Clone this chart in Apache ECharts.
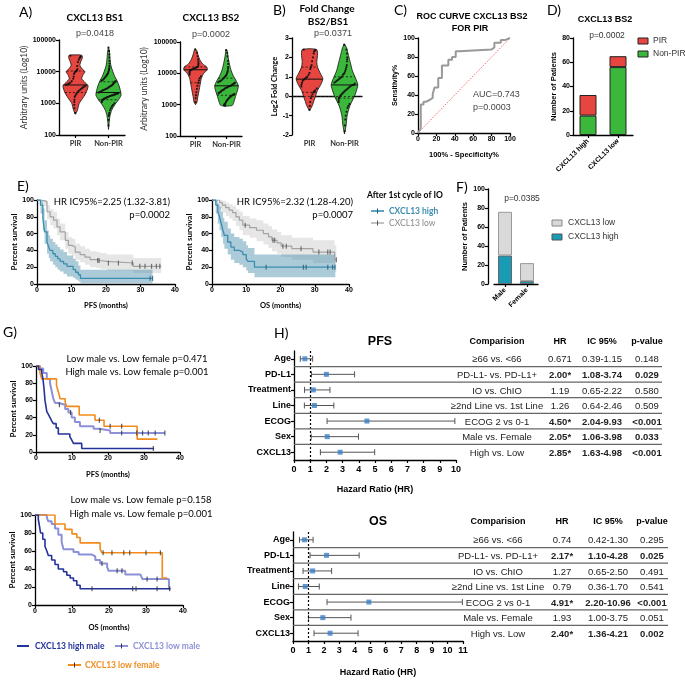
<!DOCTYPE html>
<html><head><meta charset="utf-8">
<script src="https://cdn.jsdelivr.net/npm/echarts@6/dist/echarts.min.js"></script>
<style>html,body{margin:0;padding:0;background:#fff}#c{width:685px;height:680px}</style>
</head><body><div id="c"></div>
<script>
// ---------------- DATA ----------------
// Panel A (violins, log scale)
const violinCats = ['PIR', 'Non-PIR'];
const bs1PirProfile = [[450,0],[600,0.15],[1000,0.3],[1400,0.55],[2000,0.8],[2800,0.95],[3600,1],[4600,0.75],[6000,0.5],[8000,0.6],[10000,0.75],[12000,0.55],[16000,0.35],[22000,0.45],[28000,0.55],[33000,0.5],[34000,0]];
const bs1NonPirProfile = [[150,0],[250,0.05],[400,0.12],[600,0.25],[900,0.5],[1300,0.8],[1800,1],[2500,0.95],[3500,0.85],[5000,0.7],[7000,0.5],[10000,0.35],[15000,0.2],[25000,0.12],[40000,0.08],[60000,0]];
const bs2PirProfile = [[1000,0],[1200,0.12],[1800,0.2],[2800,0.3],[4500,0.4],[7000,0.5],[10000,0.7],[13000,1],[16000,0.95],[20000,0.6],[28000,0.35],[40000,0.2],[55000,0.1],[60000,0]];
const bs2NonPirProfile = [[900,0],[950,0.5],[1300,0.65],[2000,0.8],[3000,0.95],[4000,1],[5500,0.85],[8000,0.6],[12000,0.4],[20000,0.25],[35000,0.12],[55000,0.05],[58000,0]];
const bs1PirStats = [2200, 3800, 10500];
const bs1NonPirStats = [1300, 2200, 4800];
const bs2PirStats = [5000, 13000, 16000];
const bs2NonPirStats = [2000, 4000, 7000];
const bs1PirDots = [32000,30500,29000,27000,24000,20000,15000,12000,11000,10500,10000,9500,8500,7000,6000,5000,4500,4200,4000,3800,3600,3400,3200,3000,2800,2600,2400,2200,2000,1800,1600,1300,1100,900,700,500];
const bs1NonPirDots = [58000,45000,35000,28000,22000,18000,15000,13000,12000,11000,10000,9000,8500,8000,7500,7000,6500,6000,5500,5200,5000,4800,4500,4300,4000,3800,3600,3500,3300,3200,3000,2900,2800,2700,2600,2500,2400,2300,2200,2100,2000,2000,1900,1900,1800,1800,1700,1700,1600,1600,1500,1500,1400,1400,1300,1300,1200,1100,1000,900,800,700,600,500,450,400,300,200];
const bs2PirDots = [58000,45000,35000,28000,24000,21000,19000,17000,16000,15500,15000,14500,14000,13500,13000,12500,12000,11000,10000,9000,8000,7000,6000,5000,4000,3200,2500,2000,1600,1200];
const bs2NonPirDots = [55000,45000,35000,25000,20000,16000,14000,12000,11000,10000,9000,8500,8000,7500,7000,6500,6000,5700,5500,5200,5000,4800,4600,4400,4200,4000,3900,3800,3600,3500,3400,3200,3000,2900,2800,2600,2500,2400,2300,2200,2100,2000,1900,1800,1700,1600,1500,1400,1300,1200,1100,1050,1000,950,920];
// Panel B (fold change)
const bPirProfile = [[-0.75,0],[-0.5,0.2],[-0.2,0.35],[0,0.45],[0.3,0.6],[0.6,0.85],[0.9,1],[1.2,0.8],[1.5,0.6],[1.8,0.55],[2.1,0.6],[2.4,0.55],[2.45,0]];
const bNonPirProfile = [[-1.95,0],[-1.5,0.12],[-1,0.2],[-0.5,0.4],[0,0.75],[0.4,0.95],[0.6,1],[0.9,0.85],[1.3,0.6],[1.7,0.45],[2.1,0.3],[2.5,0.15],[2.7,0]];
const bPirStats = [0.2, 0.88, 1.5];
const bNonPirStats = [-0.1, 0.58, 1.0];
const bPirDots = [2.4,2.38,2.35,2.3,2.2,2.0,1.8,1.6,1.5,1.4,1.2,1.1,1.0,0.95,0.9,0.85,0.8,0.7,0.6,0.5,0.4,0.3,0.25,0.2,0.1,0.0,-0.1,-0.3,-0.5,-0.7];
const bNonPirDots = [2.65,2.4,2.2,2.0,1.9,1.8,1.6,1.5,1.4,1.3,1.2,1.15,1.1,1.0,0.95,0.9,0.85,0.8,0.75,0.7,0.65,0.6,0.58,0.55,0.5,0.45,0.4,0.35,0.3,0.25,0.2,0.15,0.1,0.05,0.0,-0.05,-0.1,-0.2,-0.3,-0.4,-0.5,-0.6,-0.8,-1.0,-1.2,-1.5,-1.8];
// Panel C (ROC)
const rocFpr = [0,3,3,6,6,9,9,13,13,16,16,18,18,22,22,26,26,33,33,37,37,41,41,45,45,80,80,83,83,90,90,95,95,100];
const rocTpr = [0,5,30,30,33,33,35,35,37,37,41,41,48,48,58,58,71,71,77,77,80,80,86,86,88,88,90,90,95,95,98,98,100,100];
// Panel D
const dCats = ['CXCL13 high', 'CXCL13 low'];
const dNonPir = [16, 56];
const dPir = [17, 9];
// Panel E (KM with 95% bands)
const ePfsHighT = [0,1.0,1.7,2.2,2.9,3.4,3.8,4.6,5.3,6.0,6.7,7.7,8.7,10.5,11.2,12.0,12.6,33.5];
const ePfsHighS = [100,94,78,62,50,44,40,36,33,30,27,24,21,17,14,11,6.7,6.7];
const ePfsHighU = [100,100,90,76,64,58,54,50,47,44,41,38,34,30,27,22,17,17];
const ePfsHighL = [100,84,64,48,36,31,27,23,20,17,15,12,9,7,5,3,1,1];
const ePfsHighC = [32.8, 33.5];
const ePfsLowT = [0,1.4,2.9,3.8,4.8,5.8,6.7,8.2,9.1,10.1,11.1,12.5,13.9,15.4,17.3,18.3,20.2,27.9,36];
const ePfsLowS = [100,98,86,80,76,68,62,52,46,44,38,35,32,29,28,27,25,21,21];
const ePfsLowU = [100,100,94,89,86,78,72,62,56,54,48,45,42,39,38,37,35,31,31];
const ePfsLowL = [100,93,77,70,66,58,52,42,36,34,29,26,23,20,19,18,16,13,13];
const ePfsLowC = [17.6,18.0,20.7,23.6,27.6,29.8,31.3,33.2,34.6,35.6];
const eOsHighT = [0,1.1,1.7,2.2,2.7,3.2,3.6,4.6,5.5,6.5,8.0,9.0,10.0,10.5,12.4,36];
const eOsHighS = [100,94,86,80,72,64,58,50,44,40,38,35,30,27,20,20];
const eOsHighU = [100,100,96,92,86,79,74,66,60,56,54,51,46,43,35,35];
const eOsHighL = [100,84,72,64,56,48,42,35,29,25,23,20,16,13,8,8];
const eOsHighC = [15.8,26.7,27.5,33.8,35.2,35.9];
const eOsLowT = [0,2.2,3.0,4.0,5.0,6.0,7.0,8.0,9.0,11.0,13.0,15.0,16.5,17.5,19.0,20.2,23.3,29.5,35.8,36.3];
const eOsLowS = [100,97,94,91,88,85,80,76,70,67,64,60,56,52,49,45,42,38,29,29];
const eOsLowU = [100,100,99,97,95,93,89,86,81,78,76,72,69,65,62,58,55,52,46,46];
const eOsLowL = [100,90,85,81,78,75,69,64,58,55,51,47,43,39,36,32,29,25,14,14];
const eOsLowC = [9.7,17.8,18.3,20.7,21.7,26.0,31.2,33.8,34.5,36.3];
// Panel F
const fCats = ['Male', 'Female'];
const fHigh = [30, 3];
const fLow = [46, 19];
// Panel G (KM by sex)
const gPfsHighT = [0,0.7,1.6,1.9,2.2,2.5,3.0,3.4,3.9,4.4,4.8,5.6,6.2,9.4,9.9,10.4,12.7,32.8];
const gPfsHighS = [100,96,92,86,75,60,47,44,40,36,33,28,21,18,14,10,4,4];
const gPfsHighC = [32.6];
const gPfsLowMT = [0,1.1,2.0,3.0,3.9,4.4,4.8,5.3,6.2,8.1,9.0,9.9,10.8,12.2,16.0,17.5,20.6,35.8];
const gPfsLowMS = [100,97,92,85,80,70,62,57,55,50,46,40,35,30,27,25,22,22];
const gPfsLowMC = [6.5,9.6,17.8,23.8,28.0,29.6,31.2,33.1,35.8];
const gPfsLowFT = [0,1.1,1.6,5.7,6.2,6.7,8.1,8.5,12.0,16.4,18.9,28.1,33.7];
const gPfsLowFS = [100,92,85,77,70,62,58,53,43,37,30,15,15];
const gPfsLowFC = [17.6,20.6,23.8];
const gOsHighT = [0,0.9,1.2,1.5,2.1,2.7,3.2,3.6,4.5,5.4,6.3,7.7,8.6,9.5,10.4,11.3,12.2,36.6];
const gOsHighS = [100,95,88,80,73,65,60,55,50,45,40,37,33,30,27,22,18,18];
const gOsHighC = [15.4,26.4,27.3,33.0,36.4];
const gOsLowMT = [0,3.2,3.6,4.5,5.4,6.3,7.2,7.7,10.4,11.8,15.4,16.3,17.6,19.5,19.9,24.4,28.5,29.0,36.2,36.6];
const gOsLowMS = [100,97,93,90,85,78,70,62,59,56,54,50,46,42,38,34,32,29,18,18];
const gOsLowMC = [18.1,22.2,23.5,30.3,33.0];
const gOsLowFT = [0,5.4,8.1,10.0,11.3,12.2,17.6,18.1,34.4,35.7];
const gOsLowFS = [100,90,84,79,75,69,62,58,30,30];
const gOsLowFC = [18.4,20.8,24.0,25.6,30.0,33.9];
// Panel H (forest plots)
const hRows = ['Age','PD-L1','Treatment','Line','ECOG','Sex','CXCL13'];
const hComparisons = ['≥66 vs. <66','PD-L1- vs. PD-L1+','IO vs. ChIO','≥2nd Line vs. 1st Line','ECOG 2 vs 0-1','Male vs. Female','High vs. Low'];
const pfsHR = [0.671,2.00,1.19,1.26,4.50,2.05,2.85];
const pfsLo = [0.39,1.08,0.65,0.64,2.04,1.06,1.63];
const pfsHi = [1.15,3.74,2.22,2.46,9.93,3.98,4.98];
const pfsHRLabel = ['0.671','2.00*','1.19','1.26','4.50*','2.05*','2.85*'];
const pfsP = ['0.148','0.029','0.580','0.509','<0.001','0.033','<0.001'];
const pfsBold = [0,1,0,0,1,1,1];
const osHR = [0.74,2.17,1.27,0.79,4.91,1.93,2.40];
const osLo = [0.42,1.10,0.65,0.36,2.20,1.00,1.36];
const osHi = [1.30,4.28,2.50,1.70,10.96,3.75,4.21];
const osHRLabel = ['0.74','2.17*','1.27','0.79','4.91*','1.93','2.40*'];
const osP = ['0.295','0.025','0.491','0.541','<0.001','0.051','0.002'];
const osBold = [0,1,0,0,1,0,1];

// ---------------- STYLE / HELPERS ----------------
const FA = '"Liberation Sans", Arial, sans-serif';
const FL = 'Lato, "Open Sans", sans-serif';
const RED = '#e6463f', GREEN = '#3bb83b', TEAL = '#3b8db0', GRAYL = '#a3a3a3';
const BLUE_D = '#23339a', LAV = '#8c90d8', ORANGE = '#f28a1c', FTEAL = '#1a9bb5';
const AL = {show:true, lineStyle:{color:'#000', width:1.3}};
const AT = {show:true, length:3, lineStyle:{color:'#000', width:1.2}};

const grids = [
  {left:59, top:40, width:66, height:95},
  {left:180, top:42, width:62, height:94},
  {left:292, top:38, width:70, height:97},
  {left:418, top:38, width:92, height:95},
  {left:573, top:38, width:60, height:97},
  {left:37, top:200, width:138, height:84},
  {left:212, top:200, width:137, height:84},
  {left:494, top:189, width:44, height:95},
  {left:36, top:366, width:144, height:86},
  {left:35, top:515, width:148, height:90},
  {left:294, top:351, width:162, height:109},
  {left:293, top:532, width:170, height:109}
].map(g => Object.assign({outerBoundsMode:'none', containLabel:false}, g));

function lbl(size, o) { return Object.assign({fontFamily:FA, fontWeight:'bold', fontSize:size, color:'#000', margin:3, formatter: v => String(Math.round(v*1000)/1000)}, o||{}); }
function vAxis(gi, min, max, interval, name, gap, o) {
  return Object.assign({gridIndex:gi, type:'value', min, max, interval, name, nameLocation:'middle', nameGap:gap, nameRotate:90,
    nameTextStyle:{fontFamily:FL, fontWeight:'bold', fontSize:8, color:'#000'},
    axisLine:AL, axisTick:AT, axisLabel:lbl(7), splitLine:{show:false}}, o||{});
}
function xVal(gi, min, max, interval, name, gap, o) {
  return Object.assign({gridIndex:gi, type:'value', min, max, interval, name, nameLocation:'middle', nameGap:gap,
    nameTextStyle:{fontFamily:FL, fontWeight:'bold', fontSize:7.5, color:'#000'},
    axisLine:AL, axisTick:AT, axisLabel:lbl(7), splitLine:{show:false}}, o||{});
}
function xCat(gi, data, o) {
  return Object.assign({gridIndex:gi, type:'category', data, axisLine:AL,
    axisTick:{show:true, alignWithLabel:true, length:3, lineStyle:{color:'#000', width:1.2}},
    axisLabel:{fontFamily:FL, fontWeight:'bold', fontSize:7.5, color:'#333', margin:5, interval:0}, splitLine:{show:false}}, o||{});
}

function densAt(prof, v, lg) {
  const f = lg ? Math.log10 : (x => x);
  const x = f(v);
  for (let k = 0; k < prof.length - 1; k++) {
    const a = f(prof[k][0]), b = f(prof[k+1][0]);
    if (x >= a && x <= b) { const t = (x - a) / ((b - a) || 1); return prof[k][1] + (prof[k+1][1] - prof[k][1]) * t; }
  }
  return 0;
}
function violinSeries(gi, profs, fills, stats, lg) {
  return {type:'custom', xAxisIndex:gi, yAxisIndex:gi, z:2, silent:true,
    data: profs.map((p, i) => [i, p[0][0]]),
    renderItem: (params, api) => {
      const i = params.dataIndex, prof = profs[i];
      const band = api.size([1, 0])[0], mh = band * 0.38;
      const cx = api.coord([i, prof[0][0]])[0];
      const right = [], left = [];
      prof.forEach(([v, d]) => { const y = api.coord([i, v])[1]; right.push([cx + d*mh, y]); left.unshift([cx - d*mh, y]); });
      const ch = [{type:'polygon', shape:{points:right.concat(left), smooth:0.25}, style:{fill:fills[i], stroke:'#111', lineWidth:0.8}}];
      stats[i].forEach((v, k) => {
        const y = api.coord([i, v])[1], h = densAt(prof, v, lg) * mh;
        ch.push({type:'line', shape:{x1:cx-h, y1:y, x2:cx+h, y2:y}, style:{stroke:'#111', lineWidth:k===1?1:0.8, lineDash:k===1?null:[2,2]}});
      });
      return {type:'group', children:ch};
    }};
}
function dotSeries(gi, ci, vals, prof, lg) {
  return {type:'custom', xAxisIndex:gi, yAxisIndex:gi, z:3, silent:true,
    data: vals.map(v => [ci, v]),
    renderItem: (params, api) => {
      const idx = params.dataIndex, v = api.value(1);
      const band = api.size([1, 0])[0];
      const h = densAt(prof, v, lg) * band * 0.38 * 0.8;
      const j = ((idx * 37) % 19) / 9 - 1;
      const p = api.coord([ci, v]);
      return {type:'rect', shape:{x:p[0] + j*h - 0.9, y:p[1] - 0.9, width:1.8, height:1.8}, style:{fill:'#111'}};
    }};
}
function survAt(T, S, t) { let s = S[0]; for (let i = 0; i < T.length; i++) if (T[i] <= t) s = S[i]; return s; }
function kmLine(gi, T, S, color, w, z) {
  return {type:'line', xAxisIndex:gi, yAxisIndex:gi, data:T.map((t, i) => [t, S[i]]), step:'end', showSymbol:false, symbol:'none',
    lineStyle:{color, width:w}, z:z||3, silent:true, animation:false};
}
function censor(gi, T, S, C, color) {
  return {type:'scatter', xAxisIndex:gi, yAxisIndex:gi, data:C.map(t => [t, survAt(T, S, t)]), symbol:'rect', symbolSize:[1.2, 5],
    itemStyle:{color}, z:5, silent:true};
}
function bandSeries(gi, T, U, L, color) {
  return {type:'custom', xAxisIndex:gi, yAxisIndex:gi, z:1, silent:true, data:[[0, 0]],
    renderItem: (params, api) => {
      const pts = [];
      for (let i = 0; i < T.length; i++) { const tn = i < T.length-1 ? T[i+1] : T[i]; pts.push(api.coord([T[i], U[i]])); pts.push(api.coord([tn, U[i]])); }
      for (let i = T.length-1; i >= 0; i--) { const tn = i < T.length-1 ? T[i+1] : T[i]; pts.push(api.coord([tn, L[i]])); pts.push(api.coord([T[i], L[i]])); }
      return {type:'polygon', shape:{points:pts}, style:{fill:color}};
    }};
}
function forest(gi, hr, lo, hi) {
  return [
    {type:'custom', xAxisIndex:gi, yAxisIndex:gi, z:3, silent:true, data:hr.map((h, i) => [lo[i], hi[i], i]),
      renderItem: (params, api) => {
        const i = api.value(2), a = api.coord([api.value(0), i]), b = api.coord([api.value(1), i]);
        const st = {stroke:'#555', lineWidth:1};
        return {type:'group', children:[
          {type:'line', shape:{x1:a[0], y1:a[1], x2:b[0], y2:b[1]}, style:st},
          {type:'line', shape:{x1:a[0], y1:a[1]-3, x2:a[0], y2:a[1]+3}, style:st},
          {type:'line', shape:{x1:b[0], y1:b[1]-3, x2:b[0], y2:b[1]+3}, style:st}]};
      }},
    {type:'scatter', xAxisIndex:gi, yAxisIndex:gi, z:4, silent:true, data:hr.map((h, i) => [h, i]), symbol:'rect', symbolSize:[5, 5],
      itemStyle:{color:'#3a7fc8'},
      markLine:{silent:true, symbol:'none', label:{show:false}, data:[{xAxis:1}], lineStyle:{type:[2, 2], color:'#000', width:1.2}}}
  ];
}
function T(x, y, text, o) {
  o = o || {};
  return {type:'text', x, y, silent:true, z:100,
    style:{text, fill:o.c || '#000', font:o.f || ('9px ' + FA), textAlign:o.a || 'left', align:o.a || 'left',
      textVerticalAlign:'middle', verticalAlign:'middle'}};
}
function L(x1, y1, x2, y2, color, w) { return {type:'line', silent:true, z:100, shape:{x1, y1, x2, y2}, style:{stroke:color, lineWidth:w || 1}}; }
function R(x, y, w, h, fill, stroke) { return {type:'rect', silent:true, z:100, shape:{x, y, width:w, height:h}, style:{fill, stroke, lineWidth:1}}; }

// ---------------- AXES ----------------
const logAxis = (gi, gap) => ({gridIndex:gi, type:'log', logBase:10, min:100, max:100000, name:'Arbitrary units (Log10)', nameLocation:'middle', nameGap:gap, nameRotate:90,
  nameTextStyle:{fontFamily:FL, fontSize:8.5, color:'#333'}, axisLine:AL, axisTick:AT, axisLabel:lbl(7), splitLine:{show:false}});
const xAxes = [
  xCat(0, violinCats), xCat(1, violinCats), xCat(2, violinCats),
  xVal(3, 0, 100, 20, '100% - Specificity%', 18, {nameTextStyle:{fontFamily:FA, fontWeight:'bold', fontSize:7.5, color:'#000'}}),
  xCat(4, dCats, {axisLabel:{fontFamily:FA, fontWeight:'bold', fontSize:7, color:'#000', rotate:45, margin:5, interval:0}}),
  xVal(5, 0, 40, 10, 'PFS (months)', 18), xVal(6, 0, 40, 10, 'OS (months)', 18),
  xCat(7, fCats, {axisLabel:{fontFamily:FA, fontWeight:'bold', fontSize:7, color:'#000', rotate:45, margin:5, interval:0}}),
  xVal(8, 0, 40, 10, 'PFS (months)', 19), xVal(9, 0, 40, 10, 'OS (months)', 19),
  xVal(10, 0, 10, 1, 'Hazard Ratio (HR)', 25, {axisLabel:lbl(9, {margin:5}), nameTextStyle:{fontFamily:FA, fontWeight:'bold', fontSize:9, color:'#000'}}),
  xVal(11, 0, 11, 1, 'Hazard Ratio (HR)', 27, {axisLabel:lbl(9, {margin:5}), nameTextStyle:{fontFamily:FA, fontWeight:'bold', fontSize:9, color:'#000'}})
];
const hy = (gi) => ({gridIndex:gi, type:'category', data:hRows, inverse:true, axisLine:AL,
  axisTick:{show:true, alignWithLabel:true, length:3, lineStyle:{color:'#000', width:1.2}},
  axisLabel:{fontFamily:FA, fontWeight:'bold', fontSize:9, color:'#000', margin:3, interval:0}});
const yAxes = [
  logAxis(0, 30), logAxis(1, 31),
  vAxis(2, -2, 3, 1, 'Log2 Fold Change', 12, {nameTextStyle:{fontFamily:FL, fontWeight:'bold', fontSize:7.5, color:'#000'}}),
  vAxis(3, 0, 100, 20, 'Sensitivity%', 19, {nameTextStyle:{fontFamily:FA, fontWeight:'bold', fontSize:7, color:'#000'}}),
  vAxis(4, 0, 80, 20, 'Number of Patients', 13, {nameTextStyle:{fontFamily:FA, fontWeight:'bold', fontSize:7.5, color:'#000'}}),
  vAxis(5, 0, 100, 20, 'Percent survival', 18), vAxis(6, 0, 100, 20, 'Percent survival', 18),
  vAxis(7, 0, 100, 20, 'Number of Patients', 15, {offset:6, nameTextStyle:{fontFamily:FA, fontWeight:'bold', fontSize:7.5, color:'#000'}}),
  vAxis(8, 0, 100, 20, 'Percent survival', 17), vAxis(9, 0, 100, 20, 'Percent survival', 18),
  hy(10), hy(11)
];

// ---------------- SERIES ----------------
const series = [];
series.push(violinSeries(0, [bs1PirProfile, bs1NonPirProfile], [RED, GREEN], [bs1PirStats, bs1NonPirStats], true));
series.push(dotSeries(0, 0, bs1PirDots, bs1PirProfile, true), dotSeries(0, 1, bs1NonPirDots, bs1NonPirProfile, true));
series.push(violinSeries(1, [bs2PirProfile, bs2NonPirProfile], [RED, GREEN], [bs2PirStats, bs2NonPirStats], true));
series.push(dotSeries(1, 0, bs2PirDots, bs2PirProfile, true), dotSeries(1, 1, bs2NonPirDots, bs2NonPirProfile, true));
series.push(violinSeries(2, [bPirProfile, bNonPirProfile], [RED, GREEN], [bPirStats, bNonPirStats], false));
series.push(dotSeries(2, 0, bPirDots, bPirProfile, false), dotSeries(2, 1, bNonPirDots, bNonPirProfile, false));
series.push({type:'line', xAxisIndex:2, yAxisIndex:2, data:[], markLine:{silent:true, symbol:'none', label:{show:false}, data:[{yAxis:0}], lineStyle:{type:[2,2], color:'#222', width:0.8}}, z:4});
// C
series.push({type:'line', xAxisIndex:3, yAxisIndex:3, data:[[0,0],[100,100]], showSymbol:false, lineStyle:{type:[1.5,1.5], color:'#f06a6a', width:1}, z:2, silent:true});
series.push({type:'line', xAxisIndex:3, yAxisIndex:3, data:rocFpr.map((x, i) => [x, rocTpr[i]]), showSymbol:false, lineStyle:{color:'#999', width:2}, z:3, silent:true});
// D
series.push({type:'bar', xAxisIndex:4, yAxisIndex:4, stack:'d', data:dNonPir, barWidth:17, itemStyle:{color:GREEN, borderColor:'#222', borderWidth:1}, silent:true});
series.push({type:'bar', xAxisIndex:4, yAxisIndex:4, stack:'d', data:dPir, barWidth:17, itemStyle:{color:RED, borderColor:'#222', borderWidth:1}, silent:true});
// E
series.push(bandSeries(5, ePfsLowT, ePfsLowU, ePfsLowL, 'rgba(205,205,205,0.5)'));
series.push(bandSeries(5, ePfsHighT, ePfsHighU, ePfsHighL, 'rgba(70,140,170,0.45)'));
series.push(kmLine(5, ePfsLowT, ePfsLowS, GRAYL, 1.2), kmLine(5, ePfsHighT, ePfsHighS, TEAL, 1.3));
series.push(censor(5, ePfsLowT, ePfsLowS, ePfsLowC, '#555'), censor(5, ePfsHighT, ePfsHighS, ePfsHighC, '#1f5f7a'));
series.push(bandSeries(6, eOsLowT, eOsLowU, eOsLowL, 'rgba(205,205,205,0.5)'));
series.push(bandSeries(6, eOsHighT, eOsHighU, eOsHighL, 'rgba(70,140,170,0.45)'));
series.push(kmLine(6, eOsLowT, eOsLowS, GRAYL, 1.2), kmLine(6, eOsHighT, eOsHighS, TEAL, 1.3));
series.push(censor(6, eOsLowT, eOsLowS, eOsLowC, '#555'), censor(6, eOsHighT, eOsHighS, eOsHighC, '#1f5f7a'));
// F
series.push({type:'bar', xAxisIndex:7, yAxisIndex:7, stack:'f', data:fHigh, barWidth:14, itemStyle:{color:FTEAL, borderColor:'#666', borderWidth:1}, silent:true});
series.push({type:'bar', xAxisIndex:7, yAxisIndex:7, stack:'f', data:fLow, barWidth:14, itemStyle:{color:'#d9d9d9', borderColor:'#999', borderWidth:1}, silent:true});
// G
series.push(kmLine(8, gPfsLowMT, gPfsLowMS, LAV, 2, 3), kmLine(8, gPfsLowFT, gPfsLowFS, ORANGE, 1.6, 4), kmLine(8, gPfsHighT, gPfsHighS, BLUE_D, 1.6, 4));
series.push(censor(8, gPfsLowMT, gPfsLowMS, gPfsLowMC, '#333'), censor(8, gPfsLowFT, gPfsLowFS, gPfsLowFC, '#333'), censor(8, gPfsHighT, gPfsHighS, gPfsHighC, '#333'));
series.push(kmLine(9, gOsLowMT, gOsLowMS, LAV, 2, 3), kmLine(9, gOsLowFT, gOsLowFS, ORANGE, 1.6, 4), kmLine(9, gOsHighT, gOsHighS, BLUE_D, 1.6, 4));
series.push(censor(9, gOsLowMT, gOsLowMS, gOsLowMC, '#333'), censor(9, gOsLowFT, gOsLowFS, gOsLowFC, '#333'), censor(9, gOsHighT, gOsHighS, gOsHighC, '#333'));
// H
series.push(...forest(10, pfsHR, pfsLo, pfsHi), ...forest(11, osHR, osLo, osHi));

// ---------------- GRAPHIC TEXT ----------------
const PL = '14px ' + FL;
const g = [];
g.push(T(19, 12, 'A)', {f:PL}), T(273, 10, 'B)', {f:PL}), T(394, 10, 'C)', {f:PL}), T(547, 10, 'D)', {f:PL}),
  T(17, 186, 'E)', {f:PL}), T(456, 187, 'F)', {f:PL}), T(3, 332, 'G)', {f:PL}), T(274, 333, 'H)', {f:PL}));
// A/B titles
g.push(T(95, 18, 'CXCL13 BS1', {f:'bold 10px ' + FL, a:'center'}), T(95, 34, 'p=0.0418', {f:'9px ' + FA, a:'center', c:'#444'}));
g.push(T(211, 18, 'CXCL13 BS2', {f:'bold 10px ' + FL, a:'center'}), T(211, 35, 'p=0.0002', {f:'9px ' + FA, a:'center', c:'#444'}));
g.push(T(327, 9, 'Fold Change', {f:'bold 10px ' + FL, a:'center'}), T(328, 22, 'BS2/BS1', {f:'bold 10px ' + FL, a:'center'}),
  T(333, 34, 'p=0.0371', {f:'9px ' + FA, a:'center', c:'#444'}));
// C
g.push(T(472, 17, 'ROC CURVE CXCL13 BS2', {f:'bold 9px ' + FA, a:'center'}), T(470, 29, 'FOR PIR', {f:'bold 9px ' + FA, a:'center'}),
  T(473, 95, 'AUC=0.743', {f:'9px ' + FA, c:'#444'}), T(473, 108, 'p=0.0003', {f:'9px ' + FA, c:'#444'}));
// D
g.push(T(605, 20, 'CXCL13 BS2', {f:'bold 9px ' + FA, a:'center'}), T(607, 36, 'p=0.0002', {f:'8.5px ' + FA, a:'center', c:'#333'}));
g.push(R(638, 38, 10, 6, RED, '#222'), T(653, 41, 'PIR', {f:'8.5px ' + FA, c:'#333'}),
  R(638, 51, 10, 6, GREEN, '#222'), T(653, 54, 'Non-PIR', {f:'8.5px ' + FA, c:'#333'}));
// E
g.push(T(170, 202, 'HR IC95%=2.25 (1.32-3.81)', {f:'9.5px ' + FL, a:'right'}), T(170, 215, 'p=0.0002', {f:'9.5px ' + FL, a:'right'}));
g.push(T(353, 202, 'HR IC95%=2.32 (1.28-4.20)', {f:'9.5px ' + FL, a:'right'}), T(353, 215, 'p=0.0007', {f:'9.5px ' + FL, a:'right'}));
g.push(T(367, 195, 'After 1st cycle of IO', {f:'bold 8.5px ' + FL}));
g.push(L(371, 211, 384, 211, TEAL, 1.6), L(377.5, 208.5, 377.5, 213.5, '#1f5f7a', 1), T(389, 211, 'CXCL13 high', {f:'bold 8.5px ' + FL, c:TEAL}));
g.push(L(371, 223, 384, 223, GRAYL, 1.3), L(377.5, 220.5, 377.5, 225.5, '#555', 1), T(389, 223, 'CXCL13 low', {f:'8.5px ' + FL, c:'#888'}));
// F
g.push(T(522, 199, 'p=0.0385', {f:'8.5px ' + FA, a:'center', c:'#333'}));
g.push(R(552, 220, 10, 6, '#d9d9d9', '#888'), T(568, 223, 'CXCL13 low', {f:'8.5px ' + FA, c:'#333'}),
  R(552, 234, 10, 6, FTEAL, '#555'), T(568, 237, 'CXCL13 high', {f:'8.5px ' + FA, c:'#333'}));
// G
g.push(T(137, 359, 'Low male vs. Low female p=0.471', {f:'9.5px ' + FL, a:'center'}), T(137, 372, 'High male vs. Low female p=0.001', {f:'9.5px ' + FL, a:'center'}));
g.push(T(141, 500, 'Low male vs. Low female p=0.158', {f:'9.5px ' + FL, a:'center'}), T(141, 514, 'High male vs. Low female p=0.001', {f:'9.5px ' + FL, a:'center'}));
g.push(L(17, 646, 29, 646, BLUE_D, 2), T(35, 646, 'CXCL13 high male', {f:'bold 8.5px ' + FL, c:BLUE_D}));
g.push(L(115, 646, 128, 646, LAV, 2), L(121.5, 643.5, 121.5, 648.5, '#333', 1), T(133, 646, 'CXCL13 low male', {f:'bold 8.5px ' + FL, c:LAV}));
g.push(L(68, 665, 81, 665, ORANGE, 2), L(74.5, 662.5, 74.5, 667.5, '#333', 1), T(85, 665, 'CXCL13 low female', {f:'bold 8.5px ' + FL, c:ORANGE}));
// H tables
function table(gi, title, titleX, headY, cols, xEnd, hrLbl, lo, hi, pv, bold) {
  const gr = grids[gi], rh = gr.height / 7;
  g.push(T(titleX, headY, title, {f:'bold 12.5px ' + FA, a:'center'}));
  const hf = 'bold 9px ' + FA;
  g.push(T(cols[0], headY, 'Comparision', {f:hf, a:'center'}), T(cols[1], headY, 'HR', {f:hf, a:'center'}),
    T(cols[2], headY, 'IC 95%', {f:hf, a:'center'}), T(cols[3], headY, 'p-value', {f:hf, a:'center'}));
  for (let i = 0; i < 7; i++) {
    const y = gr.top + (i + 0.5) * rh + 1;
    const fw = bold[i] ? 'bold ' : '';
    g.push(T(cols[0], y, hComparisons[i], {f:'9.5px ' + FA, a:'center', c:'#222'}));
    g.push(T(cols[1], y, hrLbl[i], {f:fw + '9.5px ' + FA, a:'center', c:'#222'}));
    g.push(T(cols[2], y, lo[i].toFixed(2) + '-' + hi[i].toFixed(2), {f:fw + '9.5px ' + FA, a:'center', c:'#222'}));
    g.push(T(cols[3], y, pv[i], {f:fw + '9.5px ' + FA, a:'center', c:'#222'}));
  }
  for (let k = 1; k < 7; k++) { const y = gr.top + k * rh; g.push(L(gr.left, y, xEnd, y, '#666', 1.3)); }
}
table(10, 'PFS', 380, 342, [497, 560, 602, 647], 662, pfsHRLabel, pfsLo, pfsHi, pfsP, pfsBold);
table(11, 'OS', 378, 522, [498, 562, 608, 652], 668, osHRLabel, osLo, osHi, osP, osBold);

const chart = echarts.init(document.getElementById('c'), null, {renderer:'canvas', width:685, height:680});
chart.setOption({backgroundColor:'#fff', animation:false, grid:grids, xAxis:xAxes, yAxis:yAxes, series, graphic:g});
</script></body></html>
